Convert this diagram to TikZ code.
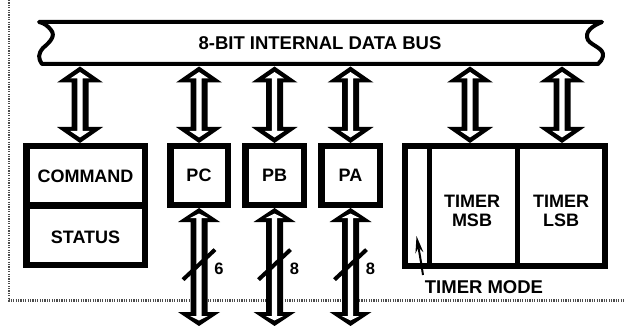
\documentclass[tikz,border=0pt]{standalone}
\usepackage{fontspec}
\setmainfont{Liberation Sans}
\usetikzlibrary{calc,arrows.meta}
% #1 top tip, #2 bottom tip, #3 head half width, #4 head length
\newcommand{\hollowarrow}[4]{%
  \fill[black] (#1) -- ($(#1)+(#3,#4)$) -- ($(#1)+(8.5,#4)$) -- ($(#2)+(8.5,-#4)$) -- ($(#2)+(#3,-#4)$) -- (#2)
     -- ($(#2)+(-#3,-#4)$) -- ($(#2)+(-8.5,-#4)$) -- ($(#1)+(-8.5,#4)$) -- ($(#1)+(-#3,#4)$) -- cycle;
  \fill[white] ($(#1)+(0,5.5)$) -- ($(#1)+(#3*0.42,#4-4)$) -- ($(#1)+(2.7,#4-4)$) -- ($(#2)+(2.7,-#4+4)$)
     -- ($(#2)+(#3*0.42,-#4+4)$) -- ($(#2)+(0,-5.5)$) -- ($(#2)+(-#3*0.42,-#4+4)$) -- ($(#2)+(-2.7,-#4+4)$)
     -- ($(#1)+(-2.7,#4-4)$) -- ($(#1)+(-#3*0.42,#4-4)$) -- cycle;
}
\begin{document}
\begin{tikzpicture}[x=1pt,y=-1pt,
  lbl/.style={font=\fontsize{18}{18.5}\selectfont\bfseries, align=center, inner sep=0},
  regbox/.style={draw, line width=6.5, fill=white, inner sep=0},
  numlbl/.style={font=\fontsize{16.5}{16.5}\selectfont\bfseries, inner sep=0},
  slash/.style={line width=4}]
\useasboundingbox (0,0) rectangle (624,326);
% dotted frame
\draw[line width=2.5, dash pattern=on 1.2pt off 1.2pt, black!70] (9,0) -- (9,300.5) -- (624,300.5);
% bus
\draw[line width=4, line join=round, fill=white] (39,22) -- (602,22)
  .. controls (592,26) and (584,32) .. (588,40)
  .. controls (592,46) and (604,48) .. (603,56)
  .. controls (602,60) and (600,62) .. (598,64) -- (42,64)
  .. controls (38,58) and (38,54) .. (43,48)
  .. controls (50,42) and (56,36) .. (51,30)
  .. controls (48,26) and (44,23) .. (39,22) -- cycle;
\node[lbl, font=\fontsize{18.5}{19}\selectfont\bfseries] (bus) at (320,43) {8-BIT INTERNAL DATA BUS};
% registers
\node[regbox, minimum width=118.5, minimum height=59] (cmd) at (85.5,175.75) {};
\node[regbox, minimum width=118.5, minimum height=59.5] (stat) at (85.5,235) {};
\node[lbl] at ($(cmd.center)+(0,1)$) {COMMAND};
\node[lbl] at ($(stat.center)+(0,2)$) {STATUS};
\node[regbox, minimum width=57.5, minimum height=58.5] (pc) at (199,175.5) {};
\node[regbox, minimum width=58.5, minimum height=58.5] (pb) at (274.5,175.5) {};
\node[regbox, minimum width=58.5, minimum height=58.5] (pa) at (350.5,175.5) {};
\node[lbl] at (pc.center) {PC};
\node[lbl] at (pb.center) {PB};
\node[lbl] at (pa.center) {PA};
% timer
\node[draw, line width=6, fill=white, inner sep=0, minimum width=200, minimum height=120] (timer) at (505,206) {};
\draw[line width=4.5] (429.5,146) -- (429.5,266);
\draw[line width=5] (517.5,146) -- (517.5,266);
\node[lbl] (msb) at (472,211) {TIMER\\MSB};
\node[lbl] (lsb) at (561,211) {TIMER\\LSB};
% coordinates for bus connections
\coordinate (busb) at (0,66.5);
\coordinate (bot) at (0,326);
\coordinate (c1t) at (80,66.5);   \coordinate (c1b) at (80,143);
\coordinate (m1t) at (470,66.5);  \coordinate (m1b) at (470,143);
\coordinate (l1t) at (562,66.5);  \coordinate (l1b) at (562,143);
\coordinate (pct) at (pc.north |- busb);
\coordinate (pbt) at (pb.north |- busb);
\coordinate (pat) at (pa.north |- busb);
\coordinate (pcd) at (pc.south |- bot);
\coordinate (pbd) at (pb.south |- bot);
\coordinate (pad) at (pa.south |- bot);
% bus arrows
\hollowarrow{c1t}{c1b}{23}{16}
\hollowarrow{pct}{pc.north}{23}{16}
\hollowarrow{pbt}{pb.north}{23}{16}
\hollowarrow{pat}{pa.north}{23}{16}
\hollowarrow{m1t}{m1b}{23}{16}
\hollowarrow{l1t}{l1b}{23}{16}
% port arrows
\hollowarrow{pc.south}{pcd}{21}{14}
\hollowarrow{pb.south}{pbd}{21}{14}
\hollowarrow{pa.south}{pad}{21}{14}
% width slashes
\coordinate (pcs) at ($(pc.south)!0.48!(pcd)$);
\coordinate (pbs) at ($(pb.south)!0.48!(pbd)$);
\coordinate (pas) at ($(pa.south)!0.48!(pad)$);
\draw[slash] ($(pcs)+(-16,15)$) -- ($(pcs)+(16,-15)$);
\draw[slash] ($(pbs)+(-16,15)$) -- ($(pbs)+(16,-15)$);
\draw[slash] ($(pas)+(-16,15)$) -- ($(pas)+(16,-15)$);
\node[numlbl] (n6) at ($(pcs)+(20,4)$) {6};
\node[numlbl] (n8a) at ($(pbs)+(20,4)$) {8};
\node[numlbl] (n8b) at ($(pas)+(20,4)$) {8};
% timer mode
\node[lbl, font=\fontsize{18.5}{19}\selectfont\bfseries] (tm) at (484,287) {TIMER MODE};
\coordinate (tmtail) at (423,275);
\coordinate (tmtip) at (416.5,236);
\draw[line width=2, -{Stealth[length=17pt,width=8pt]}] (tmtail) .. controls (421,262) .. (tmtip);
\end{tikzpicture}
\end{document}
